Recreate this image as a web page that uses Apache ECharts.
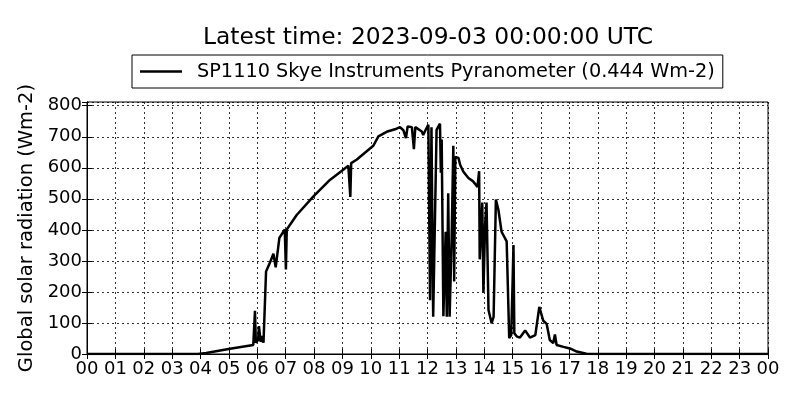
<!DOCTYPE html>
<html>
<head>
<meta charset="utf-8">
<script src="https://cdn.jsdelivr.net/npm/echarts@6/dist/echarts.min.js"></script>
<style>html,body{margin:0;padding:0;background:#fff}#c{width:800px;height:400px}</style>
</head>
<body>
<div id="c"></div>
<script>
var titleText = 'Latest time: 2023-09-03 00:00:00 UTC';
var seriesName = 'SP1110 Skye Instruments Pyranometer (0.444 Wm-2)';
var yAxisName = 'Global solar radiation (Wm-2)';
var hours = [0,3.9,4.2,5.04,5.86,5.92,5.95,6.03,6.06,6.12,6.17,6.22,6.31,6.45,6.57,6.65,6.78,6.92,6.97,7.01,7.04,7.39,7.98,8.56,9.03,9.21,9.26,9.28,9.31,9.5,10.09,10.27,10.56,10.91,11.03,11.15,11.24,11.3,11.45,11.52,11.57,11.8,11.85,11.95,12.03,12.09,12.14,12.2,12.32,12.44,12.47,12.5,12.56,12.64,12.68,12.73,12.78,12.85,12.91,12.94,12.98,13.09,13.15,13.26,13.44,13.6,13.67,13.76,13.82,13.84,13.93,13.97,14.03,14.08,14.15,14.26,14.33,14.41,14.5,14.61,14.79,14.88,14.95,15.0,15.03,15.06,15.15,15.26,15.44,15.61,15.8,15.94,16.08,16.2,16.31,16.43,16.49,16.55,16.79,17.02,17.26,17.6,17.8,24];
var radiation = [0,0,3,17,29,139,36,45,90,39,58,36,266,295,323,279,374,394,401,272,401,448,508,561,594,607,610,506,615,626,671,701,716,726,731,721,696,733,731,660,731,717,706,725,739,173,731,120,722,742,584,691,122,394,120,518,120,368,671,234,635,632,610,588,567,557,549,538,589,305,488,198,417,488,142,99,120,498,464,394,363,51,61,234,351,67,56,53,76,53,61,152,107,97,45,35,63,29,23,18,8,1,0,0];
var yTicks = [0,100,200,300,400,500,600,700,800];

var data = hours.map(function(h,i){return [h, radiation[i]];});
var chart = echarts.init(document.getElementById('c'), null, {renderer:'canvas'});
var font = 'DejaVu Sans';
function hourFmt(v){ var h = Math.round(v)%24; return (h<10?'0':'')+h; }
var tickStyle = {show:true, inside:true, length:5, lineStyle:{color:'#000', width:1}};
chart.setOption({
  animation:false,
  backgroundColor:'#fff',
  title:{text:titleText, left:198, top:21, textStyle:{fontFamily:font, fontSize:23.4, fontWeight:'normal', color:'#000'}},
  legend:{
    data:[seriesName], left:132, top:55, padding:[7,8,7,8],
    borderColor:'#000', borderWidth:1, borderRadius:0, backgroundColor:'#fff',
    icon:'rect', itemWidth:42, itemHeight:2.5,
    itemStyle:{color:'#000', borderWidth:0},
    textStyle:{fontFamily:font, fontSize:19.3, color:'#000', padding:[0,0,0,10]}
  },
  grid:{left:87, right:32, top:102, bottom:46, show:true, borderColor:'#000', borderWidth:1, backgroundColor:'transparent'},
  xAxis:[{
    type:'value', min:0, max:24, interval:1,
    axisLine:{show:true, lineStyle:{color:'#000'}},
    axisTick:tickStyle,
    axisLabel:{formatter:hourFmt, fontFamily:font, fontSize:18, color:'#000', margin:6, showMaxLabel:true, showMinLabel:true},
    splitLine:{show:true, lineStyle:{color:'#000', type:[2,3], width:1, opacity:0.8}}
  },{
    type:'value', min:0, max:24, interval:1, position:'top',
    axisLine:{show:true, lineStyle:{color:'#000'}},
    axisTick:tickStyle, axisLabel:{show:false}, splitLine:{show:false}
  }],
  yAxis:[{
    type:'value', min:0, max:812, interval:100,
    name:yAxisName, nameLocation:'middle', nameGap:47,
    nameTextStyle:{fontFamily:font, fontSize:19.5, color:'#000'},
    axisLine:{show:true, lineStyle:{color:'#000'}},
    axisTick:tickStyle,
    axisLabel:{fontFamily:font, fontSize:18, color:'#000', margin:5, showMaxLabel:false, formatter:function(v){return yTicks.indexOf(v)>=0?String(v):'';}},
    splitLine:{show:true, lineStyle:{color:'#000', type:[2,3], width:1, opacity:0.8}}
  },{
    type:'value', min:0, max:812, interval:100, position:'right',
    axisLine:{show:true, lineStyle:{color:'#000'}},
    axisTick:tickStyle, axisLabel:{show:false}, splitLine:{show:false}
  }],
  series:[{
    name:seriesName, type:'line', data:data, xAxisIndex:0, yAxisIndex:0,
    symbol:'none', showSymbol:false,
    lineStyle:{color:'#000', width:2.5}, itemStyle:{color:'#000'}
  }]
});
</script>
</body>
</html>
